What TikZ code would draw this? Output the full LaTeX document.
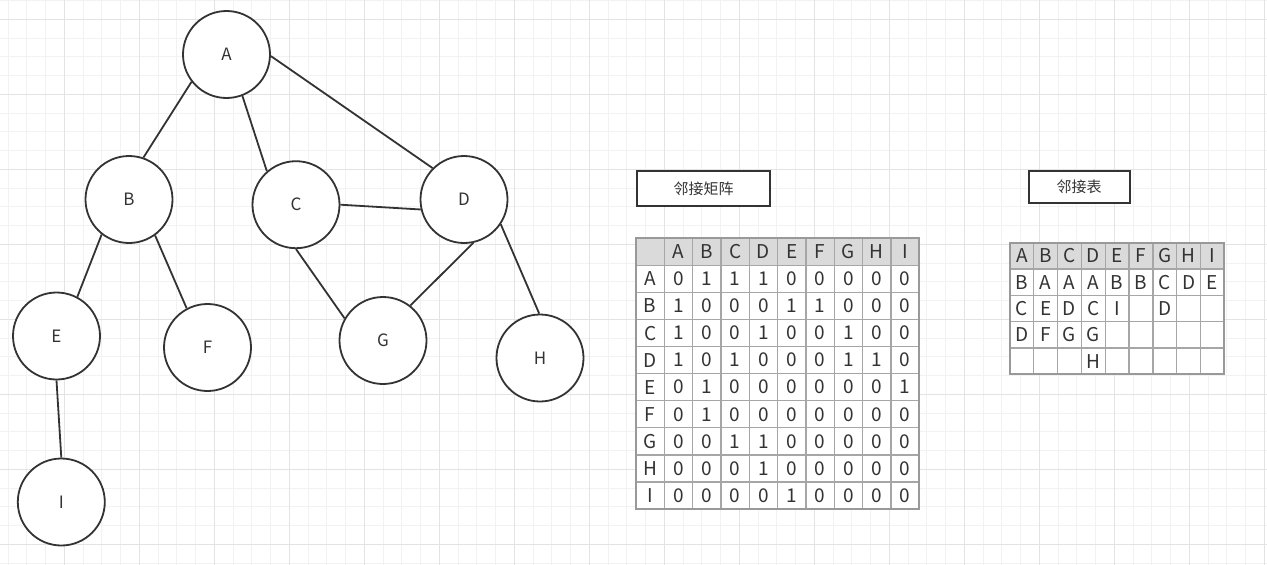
\documentclass[tikz,border=0pt]{standalone}
\usepackage{fontspec}
\setmainfont{Noto Sans CJK SC}
\definecolor{ink}{HTML}{333333}
\definecolor{gridminor}{HTML}{F2F2F2}
\definecolor{gridmajor}{HTML}{E3E3E3}
\definecolor{hdr}{HTML}{DADADA}
\definecolor{tline}{HTML}{A6A6A6}
\definecolor{tborder}{HTML}{999999}
\begin{document}
\begin{tikzpicture}[x=1pt,y=-1pt,
  vtx/.style={circle, draw=ink, line width=1.8pt, minimum size=87pt, inner sep=0pt, fill=white, text=ink, font=\fontsize{17}{20}\selectfont},
  link/.style={draw=ink, line width=1.8pt},
  cell/.style={inner sep=0pt, text=ink, font=\fontsize{19}{22}\selectfont},
  titlebox/.style={draw=ink, line width=2pt, fill=white, inner sep=0pt, text=ink, font=\fontsize{15}{18}\selectfont},
  gmin/.style={draw=gridminor, line width=1pt},
  gmaj/.style={draw=gridmajor, line width=1pt}]
\useasboundingbox (0,0) rectangle (1267,565);
\fill[white] (0,0) rectangle (1267,565);
% background grid
\foreach \i in {0,...,67} {\pgfmathsetmacro\gx{8.05+18.75*\i}\draw[gmin] (\gx,0) -- (\gx,565);}
\foreach \j in {0,...,30} {\pgfmathsetmacro\gy{0.55+18.75*\j}\draw[gmin] (0,\gy) -- (1267,\gy);}
\foreach \i in {0,...,16} {\pgfmathsetmacro\gx{64.3+75*\i}\draw[gmaj] (\gx,0) -- (\gx,565);}
\foreach \j in {0,...,7} {\pgfmathsetmacro\gy{19.3+75*\j}\draw[gmaj] (0,\gy) -- (1267,\gy);}

% graph
\node[vtx] (A) at (226.5,54.5) {A};
\node[vtx] (B) at (129,199.5) {B};
\node[vtx] (C) at (296,204.7) {C};
\node[vtx] (D) at (464,199.5) {D};
\node[vtx] (E) at (56.5,336) {E};
\node[vtx] (F) at (207.5,347.5) {F};
\node[vtx] (G) at (383,340.5) {G};
\node[vtx] (H) at (540,358) {H};
\node[vtx] (I) at (61.3,502) {I};
\draw[link] (A.218) -- (B.71);
\draw[link] (A.-69) -- (C.131);
\draw[link] (A.-2) -- (D.135);
\draw[link] (B.232) -- (E.62);
\draw[link] (B.-54) -- (F.118);
\draw[link] (C.0) -- (D.193);
\draw[link] (C.-90) -- (G.150);
\draw[link] (D.-78) -- (G.52);
\draw[link] (D.-34) -- (H.91);
\draw[link] (E.-90) -- (I.90);

% titles
\node[titlebox, minimum width=133pt, minimum height=34.7pt] (t1) at (703.5,188.35) {邻接矩阵};
\node[titlebox, minimum width=101pt, minimum height=32pt] (t2) at (1079.2,187) {邻接表};

% adjacency matrix
\fill[white] (636,238.3) rectangle (919.3,509);
\fill[hdr] (636,238.3) rectangle (919.3,265.37);
\foreach \k in {1,...,9} {
  \draw[tline, line width=1.3pt] ({636+28.33*\k},238.3) -- ({636+28.33*\k},509);
  \draw[tline, line width=1.3pt] (636,{238.3+27.07*\k}) -- (919.3,{238.3+27.07*\k});
}
\draw[tborder, line width=2pt] (636,238.3) rectangle (919.3,509);
\foreach \row [count=\r from 0] in {
  {{},A,B,C,D,E,F,G,H,I},
  {A,0,1,1,1,0,0,0,0,0},
  {B,1,0,0,0,1,1,0,0,0},
  {C,1,0,0,1,0,0,1,0,0},
  {D,1,0,1,0,0,0,1,1,0},
  {E,0,1,0,0,0,0,0,0,1},
  {F,0,1,0,0,0,0,0,0,0},
  {G,0,0,1,1,0,0,0,0,0},
  {H,0,0,0,1,0,0,0,0,0},
  {I,0,0,0,0,1,0,0,0,0}} {
  \foreach \cellv [count=\c from 0] in \row {
    \node[cell] (m-\r-\c) at ({636+28.33*(\c+0.5)},{238.3+27.07*(\r+0.5)}) {\cellv};
  }
}

% adjacency list
\fill[white] (1010,242.7) rectangle (1224.3,374.3);
\fill[hdr] (1010,242.7) rectangle (1224.3,269.03);
\foreach \k in {1,...,8} {
  \draw[tline, line width=1.3pt] ({1010+23.81*\k},242.7) -- ({1010+23.81*\k},374.3);
}
\foreach \k in {1,...,4} {
  \draw[tline, line width=1.3pt] (1010,{242.7+26.33*\k}) -- (1224.3,{242.7+26.33*\k});
}
\draw[tborder, line width=2pt] (1010,242.7) rectangle (1224.3,374.3);
\foreach \row [count=\r from 0] in {
  {A,B,C,D,E,F,G,H,I},
  {B,A,A,A,B,B,C,D,E},
  {C,E,D,C,I,{},D,{},{}},
  {D,F,G,G,{},{},{},{},{}},
  {{},{},{},H,{},{},{},{},{}}} {
  \foreach \cellv [count=\c from 0] in \row {
    \node[cell] (l-\r-\c) at ({1010+23.81*(\c+0.5)},{242.7+26.33*(\r+0.5)}) {\cellv};
  }
}
\end{tikzpicture}
\end{document}
